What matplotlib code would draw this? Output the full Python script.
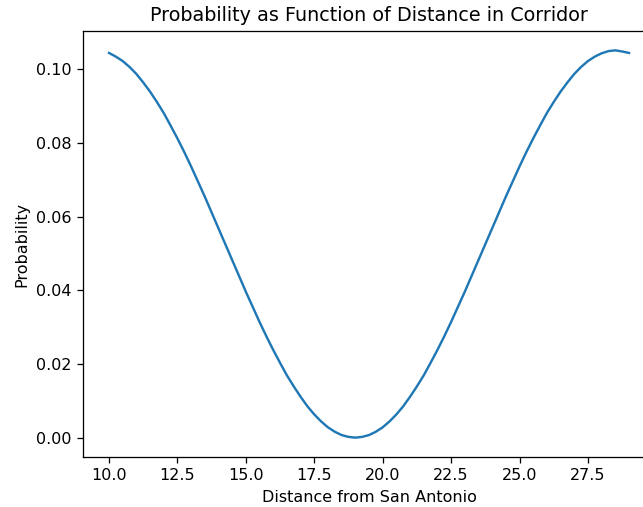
import matplotlib
matplotlib.use("Agg")
import matplotlib.pyplot as plt

# distance along corridor
distance = [10.0, 10.25, 10.5, 10.75, 11.0, 11.25, 11.5, 11.75, 12.0, 12.25,
            12.5, 12.75, 13.0, 13.25, 13.5, 13.75, 14.0, 14.25, 14.5, 14.75,
            15.0, 15.25, 15.5, 15.75, 16.0, 16.25, 16.5, 16.75, 17.0, 17.25,
            17.5, 17.75, 18.0, 18.25, 18.5, 18.75, 19.0, 19.25, 19.5, 19.75,
            20.0, 20.25, 20.5, 20.75, 21.0, 21.25, 21.5, 21.75, 22.0, 22.25,
            22.5, 22.75, 23.0, 23.25, 23.5, 23.75, 24.0, 24.25, 24.5, 24.75,
            25.0, 25.25, 25.5, 25.75, 26.0, 26.25, 26.5, 26.75, 27.0, 27.25,
            27.5, 27.75, 28.0, 28.25, 28.5, 28.75, 29.0]

probability = [0.1044, 0.1034, 0.1022, 0.1006, 0.0987, 0.0964, 0.0939, 0.0911, 0.0881, 0.0847,
               0.0812, 0.0775, 0.0736, 0.0695, 0.0654, 0.0611, 0.0568, 0.0525, 0.0482, 0.0439,
               0.0396, 0.0355, 0.0314, 0.0275, 0.0238, 0.0203, 0.0169, 0.0139, 0.0111, 0.0085,
               0.0063, 0.0044, 0.0028, 0.0016, 0.0007, 0.0002, 0.0000, 0.0002, 0.0007, 0.0016,
               0.0028, 0.0044, 0.0063, 0.0085, 0.0111, 0.0139, 0.0169, 0.0203, 0.0238, 0.0275,
               0.0314, 0.0355, 0.0396, 0.0439, 0.0482, 0.0525, 0.0568, 0.0611, 0.0654, 0.0695,
               0.0736, 0.0775, 0.0812, 0.0847, 0.0881, 0.0911, 0.0939, 0.0964, 0.0987, 0.1006,
               0.1022, 0.1034, 0.1043, 0.1049, 0.1051, 0.1048, 0.1044]


def plot_data(x, y):
    fig = plt.figure(figsize=(643 / 115, 507 / 115), dpi=115)
    # axes run past the right edge, like the cropped original
    ax = fig.add_axes([83 / 643, 50 / 507, 572 / 643, 426 / 507])
    ax.plot(x, y)
    ax.set_title("Probability as Function of Distance in Corridor")
    ax.set_xlabel("Distance from San Antonio")
    ax.set_ylabel("Probability")
    fig.savefig("out.png", dpi=115)


plot_data(distance, probability)
